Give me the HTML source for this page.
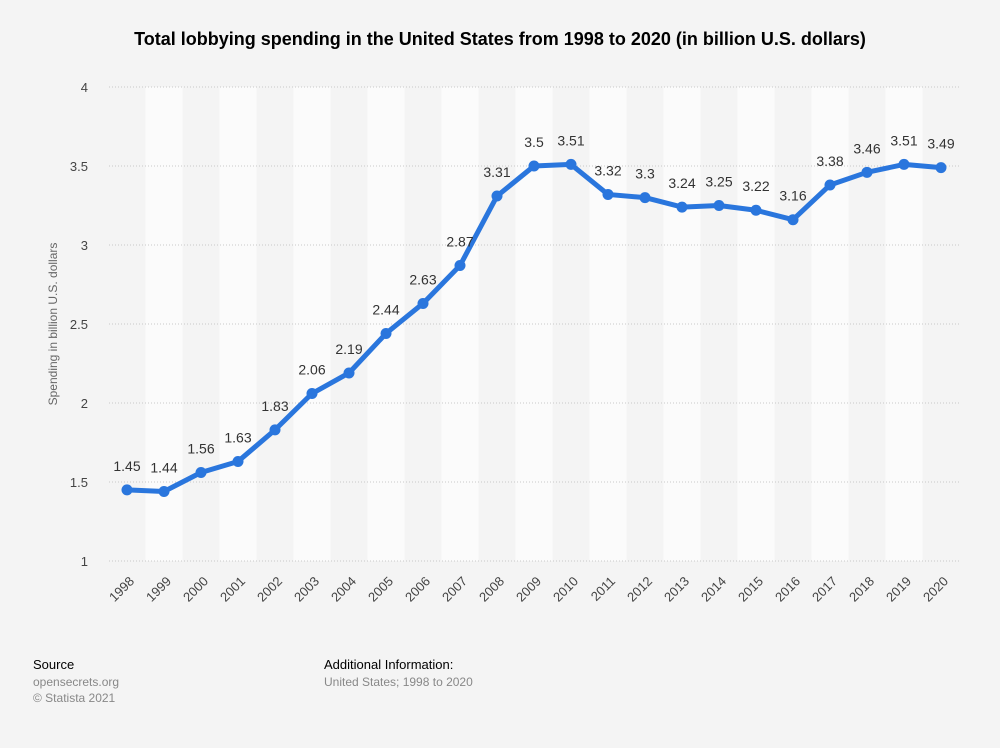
<!DOCTYPE html>
<html><head><meta charset="utf-8"><style>
body{margin:0;background:#f4f4f4;width:1000px;height:743px;overflow:hidden;font-family:"Liberation Sans",sans-serif;}
</style></head><body>
<svg id="chart" width="1000" height="743" xmlns="http://www.w3.org/2000/svg" style="font-family:'Liberation Sans',sans-serif">
<rect width="1000" height="743" fill="#f4f4f4"/>
<text x="500" y="45" text-anchor="middle" font-size="18" font-weight="bold" fill="#000">Total lobbying spending in the United States from 1998 to 2020 (in billion U.S. dollars)</text>
<g id="bands"></g><g id="grid"></g><g id="yticks"></g><g id="xticks"></g><g id="series"></g>
<text transform="translate(57,324) rotate(-90)" text-anchor="middle" font-size="12" fill="#666">Spending in billion U.S. dollars</text>
<text x="33" y="669" font-size="13" fill="#000">Source</text>
<text x="33" y="686" font-size="12" fill="#888">opensecrets.org</text>
<text x="33" y="702" font-size="12" fill="#888">© Statista 2021</text>
<text x="324" y="669" font-size="13" fill="#000">Additional Information:</text>
<text x="324" y="686" font-size="12" fill="#888">United States; 1998 to 2020</text>
</svg>
<script>
const years=[1998,1999,2000,2001,2002,2003,2004,2005,2006,2007,2008,2009,2010,2011,2012,2013,2014,2015,2016,2017,2018,2019,2020];
const values=[1.45,1.44,1.56,1.63,1.83,2.06,2.19,2.44,2.63,2.87,3.31,3.5,3.51,3.32,3.3,3.24,3.25,3.22,3.16,3.38,3.46,3.51,3.49];
const yTicks=[1,1.5,2,2.5,3,3.5,4];
const NS="http://www.w3.org/2000/svg";
const x0=127,step=37,yBase=561,yTop=87,yMin=1,yMax=4;
const xs=i=>x0+i*step;
const ys=v=>yBase-(v-yMin)/(yMax-yMin)*(yBase-yTop);
function mk(tag,attrs,parent){const e=document.createElementNS(NS,tag);for(const k in attrs)e.setAttribute(k,attrs[k]);document.getElementById(parent).appendChild(e);return e;}
years.forEach((y,i)=>{
 const b=mk('rect',{x:xs(i)-step/2,y:yTop,width:step,height:yBase-yTop,fill:i%2?'#fbfbfb':'#f4f4f4'},'bands');
 
 
 const t=mk('text',{transform:`translate(${xs(i)+8},${yBase+21}) rotate(-45)`,'text-anchor':'end','font-size':13,fill:'#444'},'xticks');
 t.textContent=y;
 
 
});
yTicks.forEach(v=>{
 const l=mk('line',{x1:109,x2:960,y1:ys(v),y2:ys(v),stroke:'#c8c8c8','stroke-dasharray':'1,2'},'grid');
 
 
 const t=mk('text',{x:88,y:ys(v)+5,'text-anchor':'end','font-size':13,fill:'#444'},'yticks');
 t.textContent=v;
 
 
});
const p=mk('polyline',{points:values.map((v,i)=>xs(i)+','+ys(v)).join(' '),fill:'none',stroke:'#2a76dd','stroke-width':5,'stroke-linejoin':'round'},'series');


values.forEach((v,i)=>{
 const c=mk('circle',{cx:xs(i),cy:ys(v),r:5.5,fill:'#2a76dd'},'series');
 
 
 const t=mk('text',{x:xs(i),y:ys(v)-19,'text-anchor':'middle','font-size':14,fill:'#333'},'series');
 t.textContent=v;
 
 
});
</script>
</body></html>
